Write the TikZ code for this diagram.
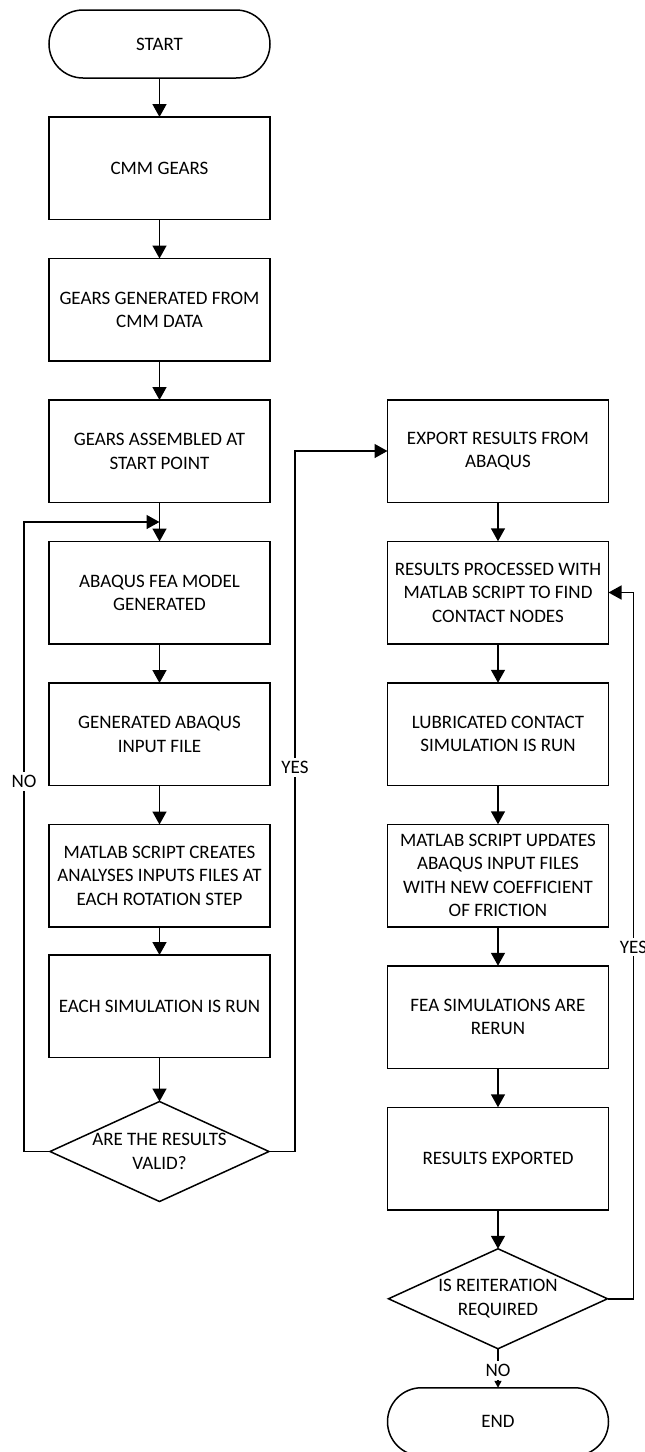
\documentclass[tikz,border=0pt]{standalone}
\usepackage{fontspec}
\setmainfont{Carlito}
\usetikzlibrary{positioning,shapes.geometric,arrows.meta,calc}

\begin{document}
\begin{tikzpicture}[x=0.5pt,y=-0.5pt,node distance=19.5pt,
	every node/.style={font=\fontsize{9.5pt}{11.7pt}\selectfont,align=center},
	process/.style={draw,line width=0.75pt,outer sep=0pt,minimum width=110.5pt,minimum height=51.25pt,inner sep=2pt},
	terminal/.style={draw,line width=0.75pt,outer sep=0pt,rounded corners=17pt,minimum width=110.5pt,minimum height=34pt},
	decision/.style={draw,line width=0.75pt,outer sep=0pt,diamond,aspect=2.19,inner sep=0pt,minimum width=109.5pt,minimum height=50pt},
	flow/.style={line width=0.75pt,-{Triangle[length=6.5pt,width=7pt]}},
	answer/.style={fill=white,inner sep=1.5pt}]
		\useasboundingbox (0,0) rectangle (644,1452);
		\node[terminal] (start) at (159.5,44) {START};
		\node[process,below=of start] (cmm) {CMM GEARS};
		\node[process,below=of cmm] (gen) {GEARS GENERATED FROM\\CMM DATA};
		\node[process,below=of gen] (asm) {GEARS ASSEMBLED AT\\START POINT};
		\node[process,below=of asm] (fea) {ABAQUS FEA MODEL\\GENERATED};
		\node[process,below=of fea] (inp) {GENERATED ABAQUS\\INPUT FILE};
		\node[process,below=of inp] (mscr) {MATLAB SCRIPT CREATES\\ANALYSES INPUTS FILES AT\\EACH ROTATION STEP};
		\node[process,below=14pt of mscr] (sim) {EACH SIMULATION IS RUN};
		\node[decision,below=22pt of sim] (valid) {ARE THE RESULTS\\VALID?};
		\node[process] (exp) at (498,451) {EXPORT RESULTS FROM\\ABAQUS};
		\node[process,below=of exp] (proc) {RESULTS PROCESSED WITH\\MATLAB SCRIPT TO FIND\\CONTACT NODES};
		\node[process,below=of proc] (lub) {LUBRICATED CONTACT\\SIMULATION IS RUN};
		\node[process,below=of lub] (upd) {MATLAB SCRIPT UPDATES\\ABAQUS INPUT FILES\\WITH NEW COEFFICIENT\\OF FRICTION};
		\node[process,below=of upd] (rerun) {FEA SIMULATIONS ARE\\RERUN};
		\node[process,below=of rerun] (resx) {RESULTS EXPORTED};
		\node[decision,below=of resx] (reit) {IS REITERATION\\REQUIRED};
		\node[terminal,below=of reit] (end) {END};
		\coordinate (loop) at ($(asm.south)!0.5!(fea.north)$);
		\draw[flow] (start) -- (cmm);
		\draw[flow] (cmm) -- (gen);
		\draw[flow] (gen) -- (asm);
		\draw[flow] (asm) -- (fea);
		\draw[flow] (fea) -- (inp);
		\draw[flow] (inp) -- (mscr);
		\draw[flow] (mscr) -- (sim);
		\draw[flow] (sim) -- (valid);
		\draw[flow] (valid.west) -- ++(-26,0) |- node[answer,pos=0.294] (no1) {NO} (loop);
		\draw[flow] (valid.east) -- ++(26,0) |- node[answer,pos=0.274] (yes1) {YES} (exp.west);
		\draw[flow] (exp) -- (proc);
		\draw[flow] (proc) -- (lub);
		\draw[flow] (lub) -- (upd);
		\draw[flow] (upd) -- (rerun);
		\draw[flow] (rerun) -- (resx);
		\draw[flow] (resx) -- (reit);
		\draw[flow] (reit.east) -- ++(26,0) |- node[answer,pos=0.249] (yes2) {YES} (proc.east);
		\draw[line width=0.75pt,-{Triangle[length=3.5pt,width=3.5pt]}] (reit) -- node[answer,pos=0.56] (no2) {NO} (end);
\end{tikzpicture}
\end{document}
